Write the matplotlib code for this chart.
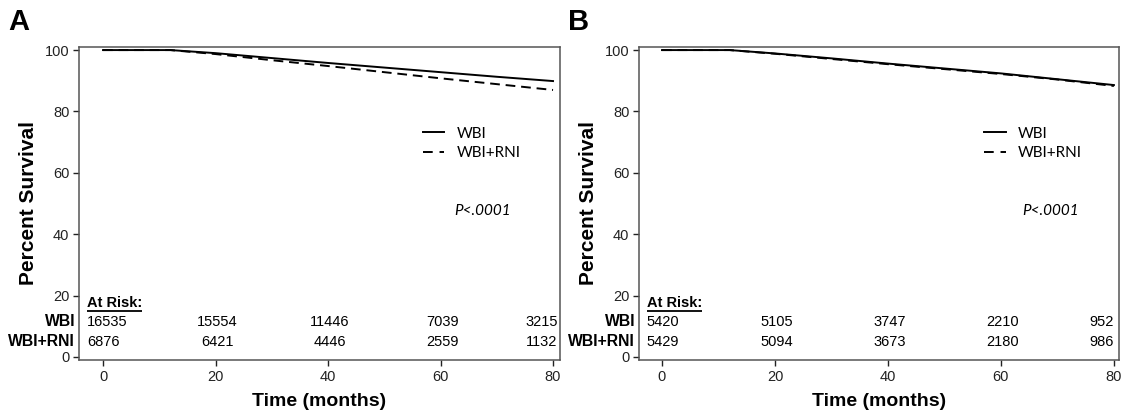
import matplotlib
matplotlib.use("Agg")
import matplotlib.pyplot as plt
from matplotlib.transforms import blended_transform_factory

# ---- data ----
months = [0, 12, 20, 30, 40, 50, 60, 70, 80]
a_wbi = [100, 100, 99.0, 97.4, 95.8, 94.3, 92.8, 91.3, 89.9]
a_rni = [100, 100, 98.7, 96.7, 94.8, 92.8, 90.8, 88.9, 87.0]
b_wbi = [100, 100, 98.9, 97.3, 95.6, 94.0, 92.4, 90.5, 88.6]
b_rni = [100, 100, 98.8, 97.1, 95.4, 93.8, 92.2, 90.4, 88.3]

risk_times = [0, 20, 40, 60, 80]
a_risk_wbi = [16535, 15554, 11446, 7039, 3215]
a_risk_rni = [6876, 6421, 4446, 2559, 1132]
b_risk_wbi = [5420, 5105, 3747, 2210, 952]
b_risk_rni = [5429, 5094, 3673, 2180, 986]

series_labels = ["WBI", "WBI+RNI"]
panel_labels = ["A", "B"]
p_text = "P<.0001"
x_ticks = [0, 20, 40, 60, 80]
y_ticks = [0, 20, 40, 60, 80, 100]

plt.rcParams['font.family'] = ['Liberation Sans', 'DejaVu Sans']

fig = plt.figure(figsize=(11.24, 4.11), dpi=100)
ax_a = fig.add_axes([79/1124, 1-360/411, 481/1124, 313.3/411])
ax_b = fig.add_axes([639/1124, 1-360/411, 480/1124, 313.3/411])

panels = [
    (ax_a, a_wbi, a_rni, a_risk_wbi, a_risk_rni, (-4.27, 81.24), 80.8, 0.715, 0.840, 8),
    (ax_b, b_wbi, b_rni, b_risk_wbi, b_risk_rni, (-4.07, 80.9), 80.0, 0.719, 0.858, 568),
]

at_risk_texts = []
for (ax, s1, s2, r1, r2, xl, last_x, leg_x, p_x, lab_px), plab in zip(panels, panel_labels):
    ax.plot(months, s1, color='black', lw=1.4, label=series_labels[0])
    ax.plot(months, s2, color='black', lw=1.4, ls=(0, (5, 3)), label=series_labels[1])
    ax.set_xlim(*xl)
    ax.set_ylim(-1.0, 101.1)
    ax.set_xticks(x_ticks)
    ax.set_yticks(y_ticks)
    ax.tick_params(direction='out', length=4, width=1, labelsize=10.5, colors='#222222', pad=3)
    for sp in ax.spines.values():
        sp.set_color('#555555')
        sp.set_linewidth(1.1)
    ax.set_xlabel("Time (months)", fontsize=14, fontweight='bold', labelpad=7)
    ax.set_ylabel("Percent Survival", fontsize=15, fontweight='bold', labelpad=5)

    leg = ax.legend(loc='upper left', bbox_to_anchor=(leg_x, 0.745), frameon=False,
                    borderpad=0, borderaxespad=0, handlelength=1.4, handletextpad=0.8,
                    labelspacing=0.35, prop={'family': 'Lato', 'size': 11})
    for line in leg.get_lines():
        line.set_linewidth(1.4)
    leg.get_lines()[1].set_linestyle((0, (5, 3.5)))

    ax.text(p_x, 0.476, p_text, transform=ax.transAxes, ha='center', va='center',
            fontsize=11, style='italic', family='Lato')

    # at-risk table
    tr = blended_transform_factory(ax.transAxes, ax.transData)
    t = ax.text(0.017, 17.6, "At Risk:", transform=tr, ha='left', va='center',
                fontsize=10.5, fontweight='bold')
    at_risk_texts.append((ax, t))
    for row_y, lab, vals in [(11.4, series_labels[0], r1), (4.9, series_labels[1], r2)]:
        ax.text(-0.008, row_y, lab, transform=tr, ha='right', va='center',
                fontsize=11.3, fontweight='bold', clip_on=False)
        for i, (tm, v) in enumerate(zip(risk_times, vals)):
            if i == 0:
                ax.text(-2.8, row_y, str(v), ha='left', va='center', fontsize=10.5)
            elif i == len(vals) - 1:
                ax.text(last_x, row_y, str(v), ha='right', va='center', fontsize=10.5)
            else:
                ax.text(tm + 0.3, row_y, str(v), ha='center', va='center', fontsize=10.5)

    fig.text(lab_px / 1124, 1 - 22/411, plab, fontsize=21, fontweight='bold',
             ha='left', va='center')

# underline "At Risk:" to the width of its text
fig.canvas.draw()
renderer = fig.canvas.get_renderer()
for ax, t in at_risk_texts:
    bb = t.get_window_extent(renderer=renderer)
    inv = ax.transAxes.inverted()
    (x0, y0), (x1, _) = inv.transform([(bb.x0, bb.y0 - 1), (bb.x1, bb.y0 - 1)])
    ax.plot([x0, x1], [y0, y0], transform=ax.transAxes, color='black', lw=1.3,
            clip_on=False, solid_capstyle='butt')

fig.savefig("out.png", dpi=100)
